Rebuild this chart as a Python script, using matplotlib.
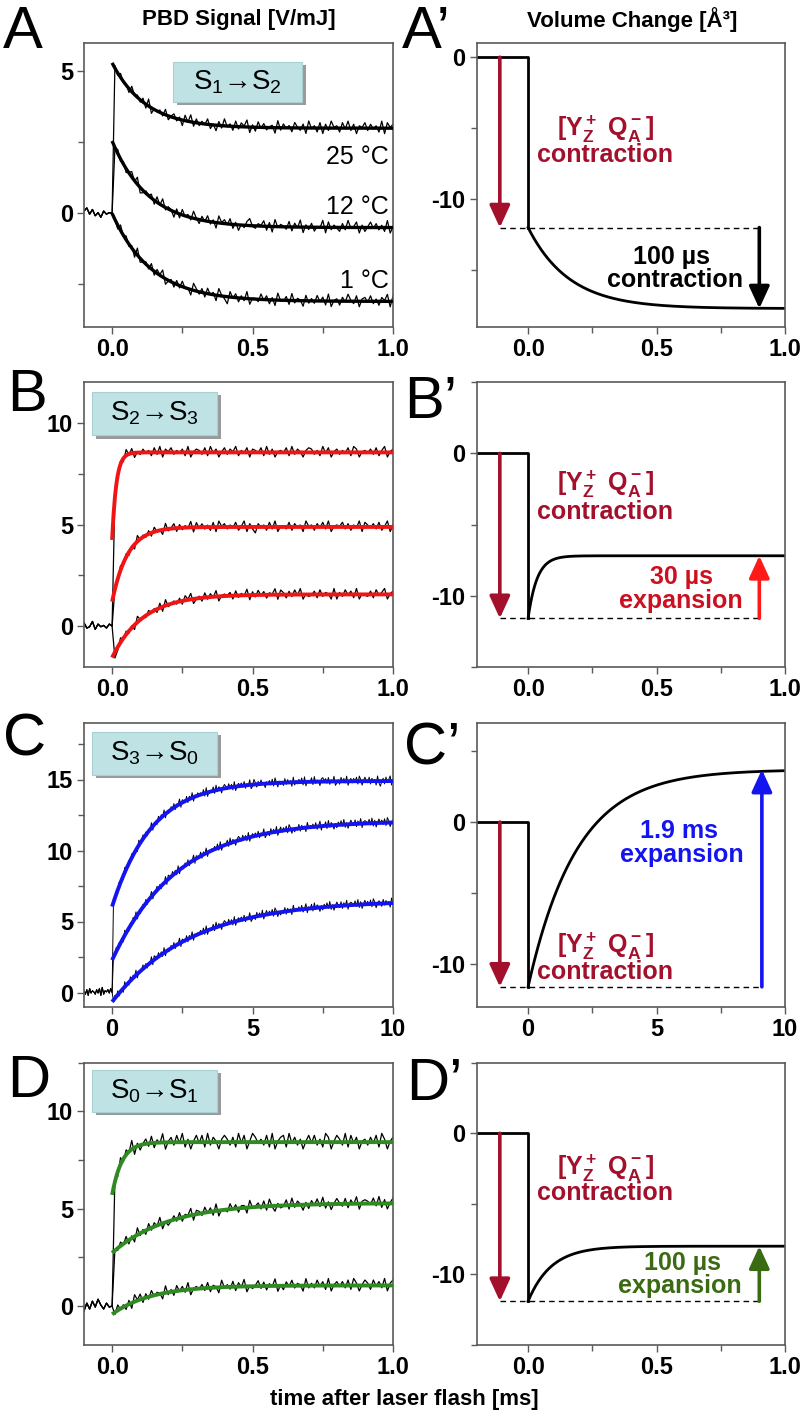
import numpy as np
import matplotlib
matplotlib.use('Agg')
import matplotlib.pyplot as plt
from matplotlib.ticker import MultipleLocator, FormatStrFormatter
from matplotlib.patches import Rectangle

plt.rcParams['font.family'] = ['Liberation Sans', 'DejaVu Sans']
plt.rcParams['font.weight'] = 'bold'
plt.rcParams['mathtext.fontset'] = 'custom'
plt.rcParams['mathtext.rm'] = 'Liberation Sans'
plt.rcParams['mathtext.bf'] = 'Liberation Sans:bold'
plt.rcParams['axes.unicode_minus'] = False

# ---- PBD traces: fit parameters (value at t=0, final value, tau [ms]) ----
fits_A = [(5.3, 3.0, 0.12), (2.55, -0.5, 0.13), (0.0, -3.1, 0.14)]
fits_B = [(4.24, 8.55, 0.015), (1.2, 4.88, 0.055), (-1.55, 1.56, 0.11)]
fits_C = [(6.05, 14.9, 1.42), (2.28, 12.1, 2.3), (-0.66, 6.5, 2.8)]
fits_D = [(5.71, 8.42, 0.035), (2.73, 5.29, 0.2), (-0.42, 1.06, 0.14)]
temps_A = ['25 °C', '12 °C', '1 °C']
temp_y = [1.98, 0.22, -2.37]

# residual codes of the measured traces (digit 0..9 -> (d - 4.5) * scale)
base_A = "6847352645"
codes_A = [
    "6374528463 7291546382 5736184927 3648251739 4628375916 2847356193 7462853719 4628173956 2849371658 3746291857",
    "4736258491 3657284936 5172846395 2748361957 4826153794 3658271946 5382749163 7254918364 2739458162 5847362915",
    "5284736192 4638275914 6273845196 3728461953 0847263915 5384726194 4729365183 6384729156 2749538167 4836275918",
]
base_B = "7348264536"
codes_B = [
    "6372948153 7462839175 8364729157 6382947158 3759264817 6482937156 4829375168 7362948157 3648297156 4738269157",
    "5483726194 6372845193 5827364918 4736281957 3648259173 0746283915 5382746195 6274839156 5837264918 6473825916",
    "0284736195 5374628193 4637285914 6283749156 5728364917 3847265918 6273849153 4728365191 6384729154 3728469157",
]
base_C = "63728465374829365748"
codes_C = [
    "6372845192 4738265194 5837264915 6283749153 3748265917 5382749164 7463829155 4829375168 6384729157 5738264913"
    "9627384516 4738295163 5283746192 6374829155 4829365178 5738264913 6284739157 3748296158 5382746193 0472836915",
    "5384726193 6273849152 4738265914 5837264918 6384729153 3748265917 5382749164 6473829155 4829375168 6384729157"
    "5738264913 6284739158 3748296152 5382746194 6473825916 4829375162 7483926158 5382749167 6483927158 4738296157",
    "4738265193 6283749154 5837264918 6384729153 3748265917 5382749164 6473829155 4829375168 6384729157 5738264913"
    "6284739158 3748296152 5382746194 6473825916 4829375162 7483926158 5382749167 6483927158 4738296157 5283746195",
]
base_D = "2637485364"
codes_D = [
    "6283749162 5738264915 7384926158 4829375168 6372948159 7463829157 8294736158 4836297158 6392847156 3748296157",
    "5374826193 6283749152 4738265917 6384729155 3847266194 5738294163 4829375162 7483926158 5382749167 6483927158",
    "3846271958 2738465193 6284739156 4738265194 6382749153 5837264915 2748365193 6384729157 4738296158 6284739168",
]

# ---- volume change models: (level after flash, final level, tau [ms]) ----
vol_A = (-12.0, -17.7, 0.16)
vol_B = (-11.6, -7.2, 0.035)
vol_C = (-11.6, 3.7, 1.9)
vol_D = (-11.9, -8.0, 0.09)

dark_red = '#a3102c'
red_fit = '#f01414'
red_txt = '#cc1020'
blue = '#1414f0'
green_fit = '#2f8a22'
green_dk = '#3a6b12'

W, H = 808, 1425
fig = plt.figure(figsize=(W / 100, H / 100), dpi=100)

rows = [(43, 327), (382.3, 666.7), (722.7, 1006.7), (1062.7, 1345)]
left_x = (84, 393)
right_x = (476.7, 785)


def make_ax(xr, yr):
    ax = fig.add_axes([xr[0] / W, 1 - yr[1] / H, (xr[1] - xr[0]) / W, (yr[1] - yr[0]) / H])
    for s in ax.spines.values():
        s.set_color('#5a5a5a')
        s.set_linewidth(1.2)
    ax.tick_params(which='both', direction='out', color='#5a5a5a', labelsize=17, pad=3)
    ax.tick_params(which='major', length=5, width=1)
    ax.tick_params(which='minor', length=4, width=1)
    return ax


def residuals(code, scale):
    return (np.array([int(c) for c in code.replace(' ', '')]) - 4.5) * scale


def fit_curve(t, y0, y1, tau):
    return y1 + (y0 - y1) * np.exp(-t / tau)


def pbd_panel(ax, dt, base_code, codes, fits, scales, color, lw_fit, xmax, lw_trace=0.9):
    base = residuals(base_code, scales[0])
    tb = -dt * np.arange(len(base), 0, -1)
    for code, (y0, y1, tau), sc in zip(codes, fits, scales):
        res = residuals(code, sc)
        tp = dt * np.arange(1, len(res) + 1)
        t = np.concatenate([tb, [0.0], tp])
        y = np.concatenate([base, [0.0], fit_curve(tp, y0, y1, tau) + res])
        ax.plot(t, y, color='black', lw=lw_trace, zorder=2)
    tf = np.linspace(0, xmax, 400)
    for y0, y1, tau in fits:
        ax.plot(tf, fit_curve(tf, y0, y1, tau), color=color, lw=lw_fit, zorder=3,
                solid_capstyle='butt')


def state_box(ax, x0, x1, y0, y1, label):
    ax.add_patch(Rectangle((x0 + 0.012, y0 - 0.012), x1 - x0, y1 - y0, transform=ax.transAxes,
                           facecolor='#9a9a9a', edgecolor='none', zorder=4))
    ax.add_patch(Rectangle((x0, y0), x1 - x0, y1 - y0, transform=ax.transAxes,
                           facecolor='#bfe2e5', edgecolor='#a7d0d3', lw=0.8, zorder=5))
    ax.text((x0 + x1) / 2, (y0 + y1) / 2, label, transform=ax.transAxes, ha='center',
            va='center', fontsize=20, fontweight='normal', zorder=6)


def arrow(ax, x, y_from, y_to, color):
    ax.annotate('', xy=(x, y_to), xytext=(x, y_from),
                arrowprops=dict(arrowstyle='-|>,head_width=0.62,head_length=1.35', color=color,
                                lw=2.6, shrinkA=0, shrinkB=0, mutation_scale=10), zorder=4)


def volume_panel(ax, xmin, xmax, model, xa, xb):
    v1, v2, tau = model
    t = np.linspace(0, xmax, 400)
    ax.plot([xmin, 0, 0], [0, 0, v1], color='black', lw=2)
    ax.plot(t, fit_curve(t, v1, v2, tau), color='black', lw=2)
    ax.plot([xa, xb], [v1, v1], color='black', lw=1, ls=(0, (4, 3)))
    arrow(ax, xa, 0, v1, dark_red)


FS = 18


def yq_label(ax, x, y1, y2, color=dark_red):
    ax.text(x, y1, r'[Y$\mathregular{_Z^+}$ Q$\mathregular{_A^-}$]', ha='center', va='center',
            fontsize=FS, color=color)
    ax.text(x, y2, 'contraction', ha='center', va='center', fontsize=FS, color=color)


def set_ticks(ax, xmaj, xmin_, ymaj, ymin_, fmt):
    ax.xaxis.set_major_locator(MultipleLocator(xmaj))
    ax.xaxis.set_minor_locator(MultipleLocator(xmin_))
    ax.yaxis.set_major_locator(MultipleLocator(ymaj))
    ax.yaxis.set_minor_locator(MultipleLocator(ymin_))
    ax.xaxis.set_major_formatter(FormatStrFormatter(fmt))
    ax.yaxis.set_major_formatter(FormatStrFormatter('%d'))


# ---------------- left column ----------------
axA = make_ax(left_x, rows[0])
pbd_panel(axA, 0.01, base_A, codes_A, fits_A, [0.055] * 3, 'black', 2.4, 1.0)
axA.set_xlim(-0.1, 1.0)
axA.set_ylim(-4, 6)
set_ticks(axA, 0.5, 0.25, 5, 2.5, '%.1f')
for lab, yy in zip(temps_A, temp_y):
    axA.text(0.985, yy, lab, ha='right', va='center', fontsize=18, fontweight='normal')
state_box(axA, 0.288, 0.705, 0.792, 0.933, r'S$\mathregular{_1}$→S$\mathregular{_2}$')

axB = make_ax(left_x, rows[1])
pbd_panel(axB, 0.01, base_B, codes_B, fits_B, [0.065] * 3, red_fit, 2.8, 1.0)
axB.set_xlim(-0.1, 1.0)
axB.set_ylim(-2, 12)
set_ticks(axB, 0.5, 0.25, 5, 2.5, '%.1f')
state_box(axB, 0.026, 0.43, 0.814, 0.966, r'S$\mathregular{_2}$→S$\mathregular{_3}$')

axC = make_ax(left_x, rows[2])
pbd_panel(axC, 0.05, base_C, codes_C, fits_C, [0.08] * 3, blue, 2.8, 10.0, lw_trace=0.7)
axC.set_xlim(-1, 10)
axC.set_ylim(-1, 19)
set_ticks(axC, 5, 2.5, 5, 2.5, '%d')
state_box(axC, 0.026, 0.43, 0.816, 0.968, r'S$\mathregular{_3}$→S$\mathregular{_0}$')

axD = make_ax(left_x, rows[3])
pbd_panel(axD, 0.01, base_D, codes_D, fits_D, [0.1, 0.08, 0.08], green_fit, 2.8, 1.0)
axD.set_xlim(-0.1, 1.0)
axD.set_ylim(-2, 12.5)
set_ticks(axD, 0.5, 0.25, 5, 2.5, '%.1f')
state_box(axD, 0.026, 0.43, 0.826, 0.974, r'S$\mathregular{_0}$→S$\mathregular{_1}$')

# ---------------- right column ----------------
axA2 = make_ax(right_x, rows[0])
volume_panel(axA2, -0.2, 1.0, vol_A, -0.11, 0.9)
arrow(axA2, 0.9, vol_A[0], vol_A[1], 'black')
yq_label(axA2, 0.30, -5.1, -6.9)
axA2.text(0.56, -14.06, '100 µs', ha='center', va='center', fontsize=FS)
axA2.text(0.57, -15.7, 'contraction', ha='center', va='center', fontsize=FS)
axA2.set_xlim(-0.2, 1.0)
axA2.set_ylim(-19, 1)
set_ticks(axA2, 0.5, 0.25, 10, 5, '%.1f')

axB2 = make_ax(right_x, rows[1])
volume_panel(axB2, -0.2, 1.0, vol_B, -0.11, 0.9)
arrow(axB2, 0.9, vol_B[0], vol_B[1], '#ff1a1a')
yq_label(axB2, 0.30, -2.19, -4.14)
axB2.text(0.597, -8.66, '30 µs', ha='center', va='center', fontsize=FS, color=red_txt)
axB2.text(0.593, -10.35, 'expansion', ha='center', va='center', fontsize=FS, color=red_txt)
axB2.set_xlim(-0.2, 1.0)
axB2.set_ylim(-15, 5)
set_ticks(axB2, 0.5, 0.25, 10, 5, '%.1f')

axC2 = make_ax(right_x, rows[2])
volume_panel(axC2, -2, 10, vol_C, -1.1, 9.1)
arrow(axC2, 9.1, vol_C[0], vol_C[1], blue)
yq_label(axC2, 3.0, -8.78, -10.55)
axC2.text(5.86, -0.66, '1.9 ms', ha='center', va='center', fontsize=FS, color=blue)
axC2.text(5.99, -2.31, 'expansion', ha='center', va='center', fontsize=FS, color=blue)
axC2.set_xlim(-2, 10)
axC2.set_ylim(-13, 7)
set_ticks(axC2, 5, 2.5, 10, 5, '%d')

axD2 = make_ax(right_x, rows[3])
volume_panel(axD2, -0.2, 1.0, vol_D, -0.11, 0.9)
arrow(axD2, 0.9, vol_D[0], vol_D[1], green_dk)
yq_label(axD2, 0.30, -2.47, -4.23)
axD2.text(0.60, -9.17, '100 µs', ha='center', va='center', fontsize=FS, color=green_dk)
axD2.text(0.59, -10.8, 'expansion', ha='center', va='center', fontsize=FS, color=green_dk)
axD2.set_xlim(-0.2, 1.0)
axD2.set_ylim(-15, 5)
set_ticks(axD2, 0.5, 0.25, 10, 5, '%.1f')

# ---------------- labels ----------------
letters = [('A', 3, 48), ('B', 7, 411), ('C', 3, 755), ('D', 7, 1097),
           ('A’', 402, 48), ('B’', 404, 418), ('C’', 404, 764), ('D’', 406, 1100)]
for txt, xp, yp in letters:
    fig.text(xp / W, 1 - yp / H, txt, fontsize=43, fontweight='normal', ha='left', va='baseline')

fig.text(239 / W, 1 - 20 / H, 'PBD Signal [V/mJ]', ha='center', va='center', fontsize=16)
fig.text(632 / W, 1 - 20 / H, 'Volume Change [Å³]', ha='center', va='center', fontsize=16)
fig.text(404 / W, 1 - 1400 / H, 'time after laser flash [ms]', ha='center', va='center', fontsize=16)

fig.savefig('out.png', dpi=100)
